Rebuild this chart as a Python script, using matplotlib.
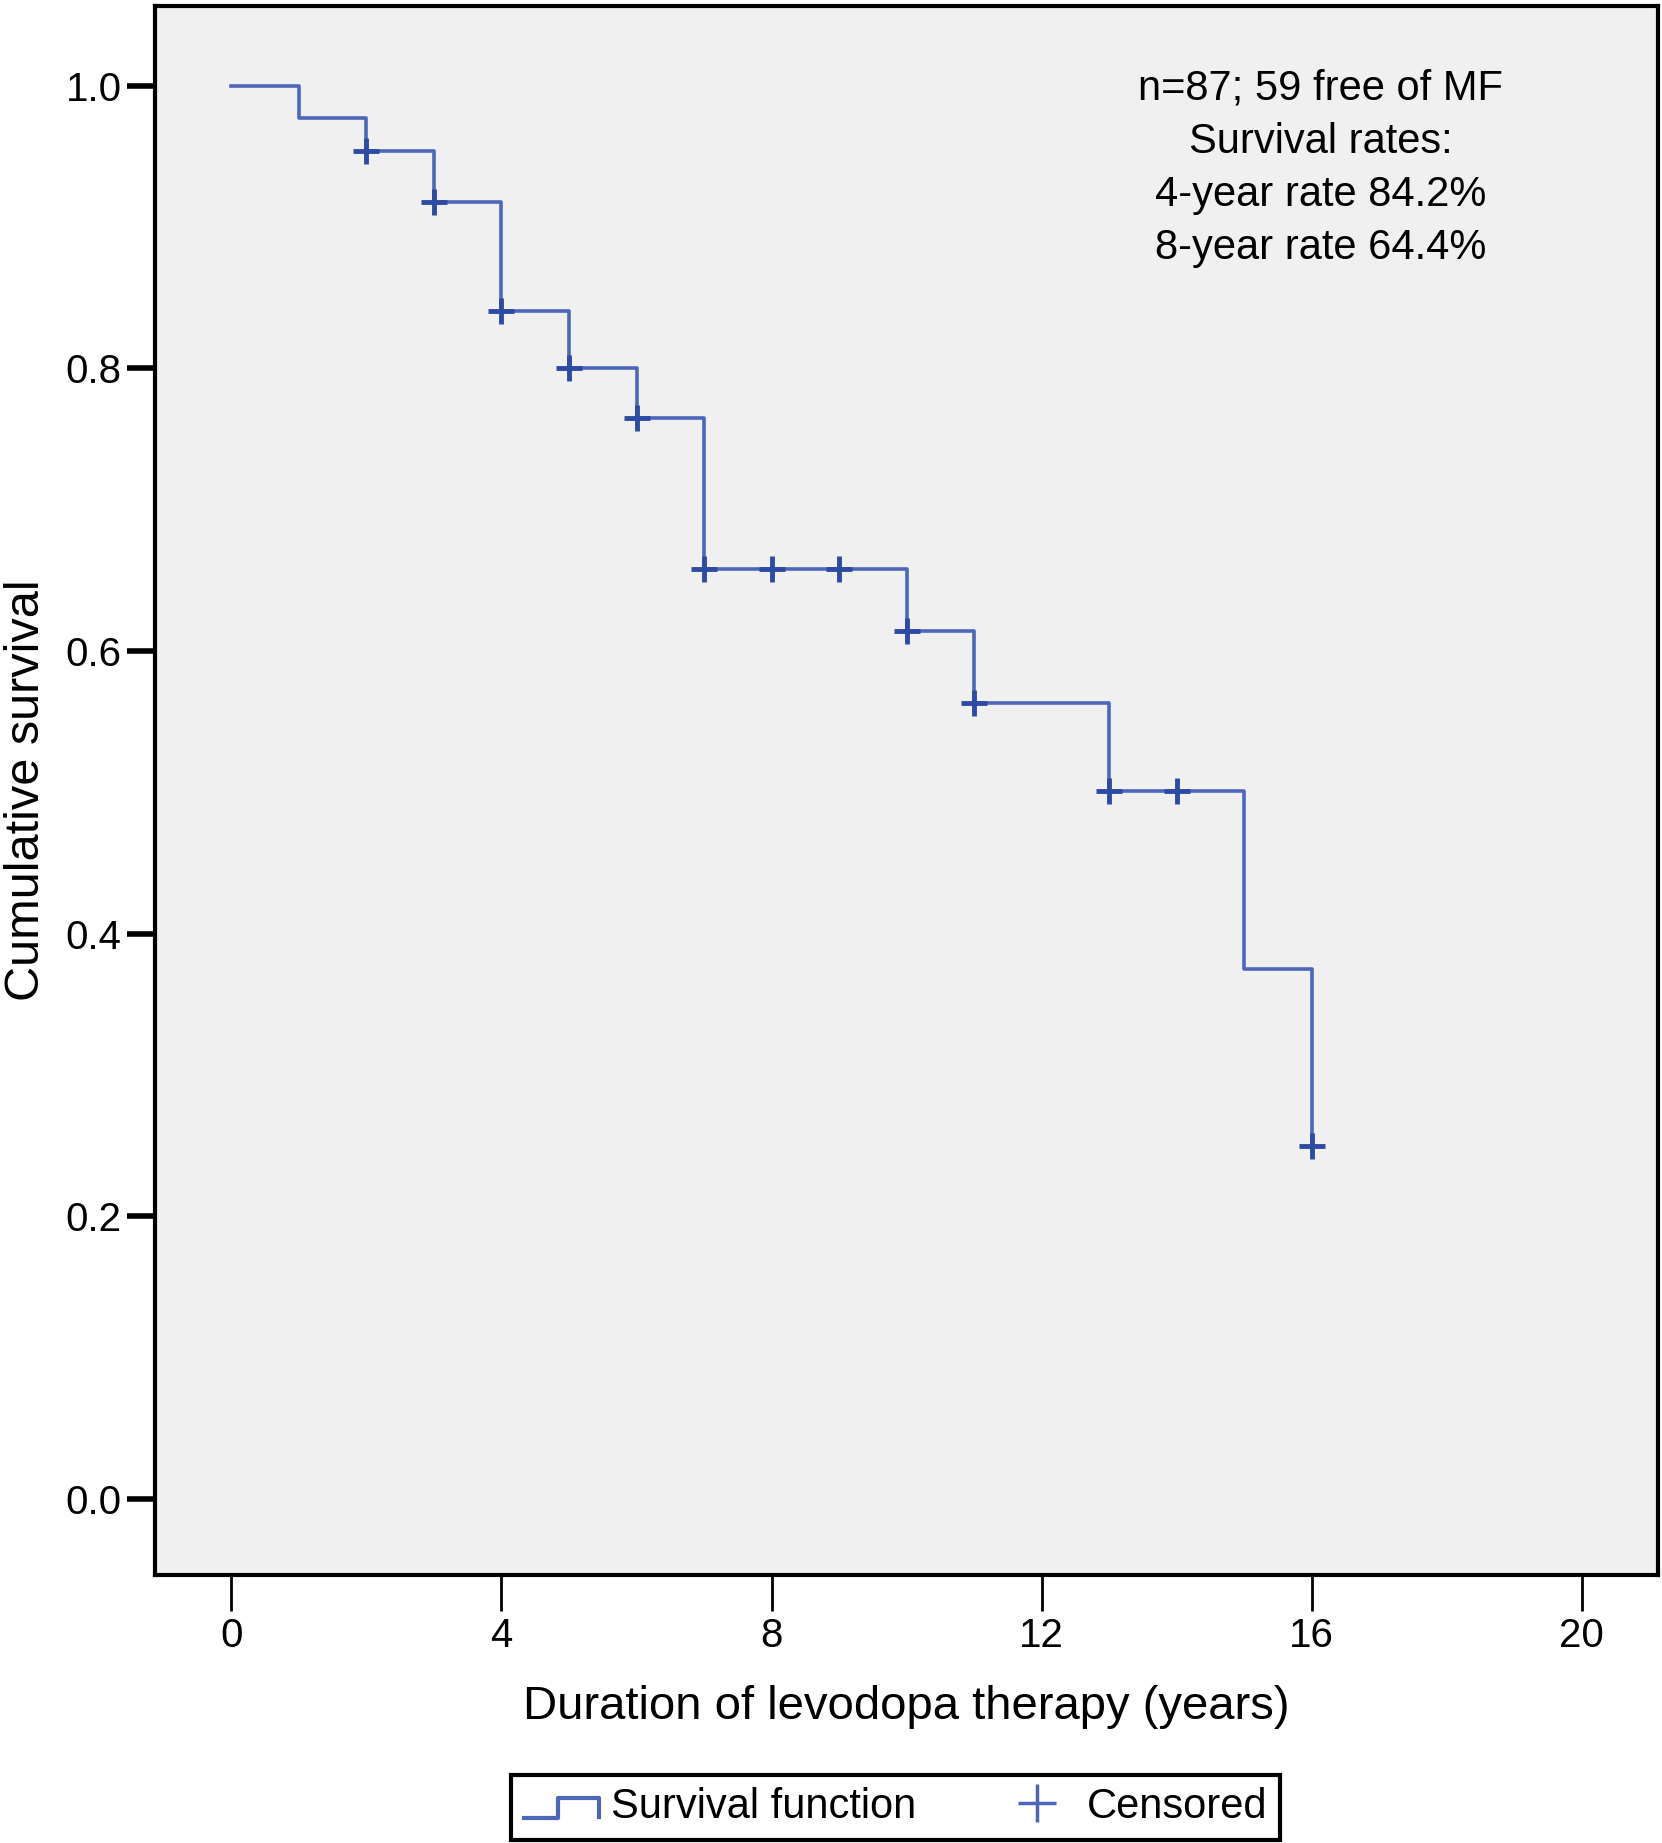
import numpy as np
import matplotlib
matplotlib.use('Agg')
import matplotlib.pyplot as plt
from matplotlib.lines import Line2D
from matplotlib.legend_handler import HandlerBase

plt.rcParams['font.family'] = ['Liberation Sans', 'DejaVu Sans']

# Kaplan-Meier steps
step_times = [0, 1, 2, 3, 4, 5, 6, 7, 10, 11, 13, 15, 16]
step_surv = [1.0, 0.977, 0.954, 0.918, 0.841, 0.800, 0.765, 0.658, 0.614, 0.563, 0.501, 0.375, 0.250]

# censored marks
cens_times = [2, 3, 4, 5, 6, 7, 8, 9, 10, 11, 13, 14, 16]
cens_surv = [0.954, 0.918, 0.841, 0.800, 0.765, 0.658, 0.658, 0.658, 0.614, 0.563, 0.501, 0.501, 0.250]

x_ticks = [0, 4, 8, 12, 16, 20]
y_ticks = [0.0, 0.2, 0.4, 0.6, 0.8, 1.0]
note = 'n=87; 59 free of MF\nSurvival rates:\n4-year rate 84.2%\n8-year rate 64.4%'

line_col = '#4d66bb'
mark_col = '#2d4aa5'


class StepHandler(HandlerBase):
    def create_artists(self, legend, orig_handle, xdescent, ydescent,
                       width, height, fontsize, trans):
        lo = -ydescent + 0.0 * height
        hi = -ydescent + 0.7 * height
        xs = [-xdescent, -xdescent + 0.45 * width, -xdescent + 0.45 * width,
              -xdescent + width, -xdescent + width]
        ys = [lo, lo, hi, hi, lo + 0.05 * height]
        ln = Line2D(xs, ys, color=orig_handle.get_color(),
                    lw=orig_handle.get_linewidth(), transform=trans)
        return [ln]


fig = plt.figure(figsize=(16.62, 18.43), dpi=100)
ax = fig.add_axes([0.0933, 0.1454, 0.904, 0.8513])
ax.set_facecolor('#f0f0f0')

ax.step(step_times, step_surv, where='post', color=line_col, lw=2.6, zorder=2)
ax.plot(cens_times, cens_surv, ls='none', marker='+', ms=19, mew=3.5,
        color=mark_col, zorder=3)

ax.set_xlim(-1.13, 21.12)
ax.set_ylim(-0.054, 1.0565)
ax.set_xticks(x_ticks)
ax.set_xticklabels([str(t) for t in x_ticks])
ax.set_yticks(y_ticks)
ax.set_yticklabels(['%.1f' % t for t in y_ticks])

for s in ax.spines.values():
    s.set_linewidth(3)
    s.set_color('black')
ax.tick_params(axis='x', direction='out', length=26, width=2, pad=4, labelsize=29)
ax.tick_params(axis='y', direction='out', length=20, width=4, pad=4, labelsize=29)

ax.set_xlabel('Duration of levodopa therapy (years)', fontsize=34, labelpad=22)
ax.set_ylabel('Cumulative survival', fontsize=35, labelpad=12)

ax.text(0.7756, 0.960, note, transform=ax.transAxes, ha='center', va='top',
        fontsize=30, multialignment='center', linespacing=1.42)

h1 = Line2D([], [], color=line_col, lw=3)
h2 = Line2D([], [], color=line_col, ls='none', marker='+', ms=28, mew=2.5)
leg = fig.legend([h1, h2], ['Survival function', 'Censored'], loc='center',
                 bbox_to_anchor=(0.539, 0.0195), ncol=2, fontsize=30,
                 fancybox=False, framealpha=1, edgecolor='black',
                 handler_map={h1: StepHandler()}, handlelength=1.8,
                 handletextpad=0.3, columnspacing=2.0, borderpad=0.3)
leg.get_frame().set_linewidth(3)

fig.savefig('out.png', dpi=100, facecolor='w')
